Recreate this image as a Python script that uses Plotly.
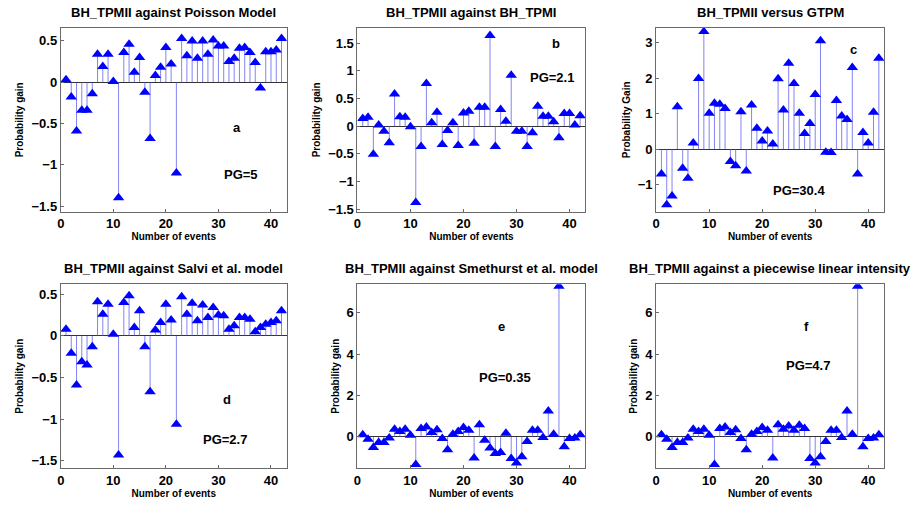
import plotly.graph_objects as go

events = list(range(1, 43))

gain_a = [0.03, -0.18, -0.59, -0.34, -0.34, -0.14, 0.34, 0.19, 0.34, 0.01,
          -1.40, 0.36, 0.46, 0.12, 0.30, -0.12, -0.68, 0.08, 0.18, 0.42,
          0.22, -1.10, 0.53, 0.32, 0.50, 0.29, 0.50, 0.34, 0.51, 0.44,
          0.44, 0.25, 0.29, 0.41, 0.42, 0.36, 0.24, -0.07, 0.37, 0.37,
          0.39, 0.53]
gain_b = [0.14, 0.16, -0.51, 0.02, -0.09, -0.30, 0.58, 0.17, 0.16, -0.01,
          -1.38, -0.37, 0.77, 0.06, 0.25, -0.33, -0.08, 0.06, -0.35, 0.24,
          0.27, -0.31, 0.34, 0.34, 1.64, -0.37, 0.30, 0.09, 0.92, -0.09,
          -0.09, -0.37, -0.12, 0.36, 0.18, 0.18, 0.08, -0.21, 0.23, 0.23,
          0.02, 0.19]
gain_c = [-0.70, -1.57, -1.32, 1.19, -0.54, -0.82, 0.17, 1.99, 3.31, 1.01,
          1.29, 1.26, 1.14, -0.35, -0.47, 1.05, -0.62, 1.24, 0.59, 0.23,
          0.51, 0.14, 1.98, 1.10, 2.42, 1.85, 1.01, 0.44, 0.72, 1.54,
          3.05, -0.09, -0.10, 1.37, 0.93, 0.83, 2.30, -0.70, 0.47, 0.17,
          1.04, 2.56]
gain_d = [0.08, -0.21, -0.59, -0.31, -0.35, -0.13, 0.41, 0.26, 0.38, 0.02,
          -1.43, 0.40, 0.48, 0.10, 0.30, -0.13, -0.67, 0.07, 0.16, 0.38,
          0.19, -1.06, 0.47, 0.26, 0.39, 0.18, 0.37, 0.22, 0.34, 0.25,
          0.24, 0.08, 0.12, 0.22, 0.22, 0.20, 0.05, 0.10, 0.14, 0.16,
          0.18, 0.30]
gain_e = [0.10, -0.11, -0.51, -0.27, -0.27, -0.06, 0.37, 0.26, 0.37, 0.08,
          -1.34, 0.40, 0.48, 0.21, 0.34, -0.08, -0.62, 0.13, 0.26, 0.45,
          0.32, -1.02, 0.58, -0.16, -0.54, -0.80, -0.75, 0.18, -1.04, -1.26,
          -0.96, -0.22, 0.32, 0.32, -0.03, 1.25, 0.13, 7.28, -0.48, -0.08,
          -0.06, 0.10]
gain_f = [0.10, -0.11, -0.51, -0.27, -0.27, -0.06, 0.37, 0.26, 0.37, 0.08,
          -1.34, 0.40, 0.48, 0.21, 0.34, -0.08, -0.62, 0.13, 0.26, 0.45,
          0.32, -1.02, 0.58, 0.37, 0.53, 0.32, 0.56, 0.40, -1.04, -1.26,
          -0.96, -0.22, 0.32, 0.32, -0.03, 1.25, 0.13, 7.28, -0.48, -0.08,
          -0.06, 0.10]

titles = ["BH_TPMII against Poisson Model", "BH_TPMII against BH_TPMI",
          "BH_TPMII versus GTPM", "BH_TPMII against Salvi et al. model",
          "BH_TPMII against Smethurst et al. model",
          "BH_TPMII against a piecewise linear intensity"]
ylabels = ["Probability gain", "Probability gain", "Probability Gain",
           "Probability gain", "Probability gain", "Probability gain"]
letters = ["a", "b", "c", "d", "e", "f"]
letter_pos = [(33.6, -0.55), (37.4, 1.49), (37.2, 2.82), (31.7, -0.77), (27.2, 5.33), (28.3, 5.33)]
pg_text = ["PG=5", "PG=2.1", "PG=30.4", "PG=2.7", "PG=0.35", "PG=4.7"]
pg_pos = [(34.2, -1.12), (36.6, 0.88), (27.0, -1.16), (31.3, -1.24), (27.9, 2.88), (28.7, 3.46)]
yranges = [[-1.57, 0.66], [-1.55, 1.78], [-1.77, 3.42], [-1.59, 0.62], [-1.52, 7.38], [-1.52, 7.38]]
ytickvals = [[-1.5, -1, -0.5, 0, 0.5], [-1.5, -1, -0.5, 0, 0.5, 1, 1.5], [-1, 0, 1, 2, 3],
             [-1.5, -1, -0.5, 0, 0.5], [0, 2, 4, 6], [0, 2, 4, 6]]
xtickvals = [0, 10, 20, 30, 40]
xrange_ = [0, 43]

series = [gain_a, gain_b, gain_c, gain_d, gain_e, gain_f]

W, H = 915, 506
xdom_px = [(57, 284), (355, 584), (655, 884)]
ydom_px = [(28, 214), (287, 473)]

FONT = "Liberation Sans"
fig = go.Figure()
annotations = []

def fmt(v):
    s = ("%g" % v)
    return s.replace("-", "\u2212")

for i, ys in enumerate(series):
    r, c = divmod(i, 3)
    n = i + 1
    xa = "x" if n == 1 else f"x{n}"
    ya = "y" if n == 1 else f"y{n}"
    xd = [xdom_px[c][0] / W, xdom_px[c][1] / W]
    yd = [1 - ydom_px[r][1] / H, 1 - ydom_px[r][0] / H]
    # stems
    sx, sy = [], []
    for x, y in zip(events, ys):
        sx += [x, x, None]
        sy += [0, y, None]
    fig.add_trace(go.Scatter(x=sx, y=sy, mode="lines", xaxis=xa, yaxis=ya,
                             line=dict(color="rgba(80,80,235,0.7)", width=1),
                             showlegend=False, hoverinfo="skip"))
    fig.add_trace(go.Scatter(x=events, y=ys, mode="markers", xaxis=xa, yaxis=ya,
                             marker=dict(symbol="triangle-up", size=10, color="#0000ff",
                                         line=dict(width=0)),
                             showlegend=False, cliponaxis=True))
    axkw = dict(showline=True, mirror=True, linecolor="#6a6a6a", linewidth=1,
                ticks="inside", ticklen=3, tickcolor="#6a6a6a", showgrid=False,
                tickfont=dict(family=FONT, size=13, color="black", weight="bold"))
    fig.update_layout(**{
        ("xaxis" if n == 1 else f"xaxis{n}"): dict(
            domain=xd, anchor=ya, range=xrange_, tickvals=xtickvals,
            ticktext=[fmt(v) for v in xtickvals], zeroline=False,
            title=dict(text="Number of events", standoff=1,
                       font=dict(family=FONT, size=10, color="black", weight="bold")),
            **axkw),
        ("yaxis" if n == 1 else f"yaxis{n}"): dict(
            domain=yd, anchor=xa, range=yranges[i], tickvals=ytickvals[i],
            ticktext=[fmt(v) for v in ytickvals[i]],
            zeroline=True, zerolinecolor="#333333", zerolinewidth=1,
            title=dict(text=ylabels[i], standoff=5,
                       font=dict(family=FONT, size=10, color="black", weight="bold")),
            **axkw),
    })
    annotations.append(dict(text=titles[i], xref="paper", yref="paper",
                            x=(xd[0] + xd[1]) / 2, y=yd[1] + 6 / H,
                            xanchor="center", yanchor="bottom", showarrow=False,
                            font=dict(family=FONT, size=13, color="black", weight="bold")))
    annotations.append(dict(text=letters[i], xref=xa, yref=ya,
                            x=letter_pos[i][0], y=letter_pos[i][1], showarrow=False,
                            font=dict(family=FONT, size=13, color="black", weight="bold")))
    annotations.append(dict(text=pg_text[i], xref=xa, yref=ya,
                            x=pg_pos[i][0], y=pg_pos[i][1], showarrow=False,
                            font=dict(family=FONT, size=13, color="black", weight="bold")))

fig.update_layout(width=W, height=H, margin=dict(l=0, r=0, t=0, b=0),
                  paper_bgcolor="white", plot_bgcolor="white",
                  annotations=annotations, showlegend=False)

fig.write_html("out.html")
